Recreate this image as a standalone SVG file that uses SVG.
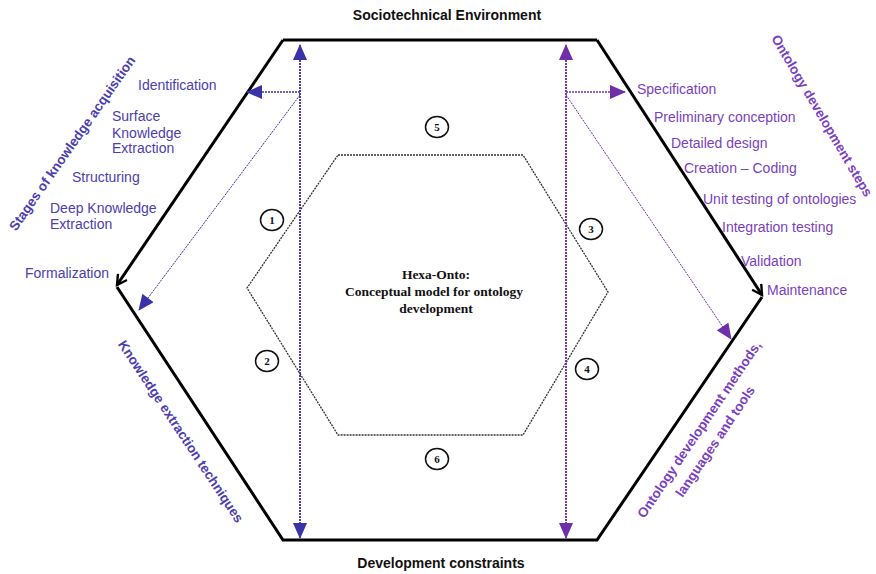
<svg xmlns="http://www.w3.org/2000/svg" width="876" height="574" viewBox="0 0 876 574">
<defs>
<marker id="chev" viewBox="0 0 12 12" refX="10" refY="6" markerWidth="13" markerHeight="13" markerUnits="userSpaceOnUse" orient="auto">
<path d="M1,1 L10,6 L1,11" fill="none" stroke="#000" stroke-width="2.2"/>
</marker>
<marker id="triB" viewBox="0 0 16 14" refX="15" refY="7" markerWidth="17" markerHeight="14" markerUnits="userSpaceOnUse" orient="auto">
<path d="M0,0 L16,7 L0,14 Z" fill="#3b31a8"/>
</marker>
<marker id="triP" viewBox="0 0 16 14" refX="15" refY="7" markerWidth="17" markerHeight="14" markerUnits="userSpaceOnUse" orient="auto">
<path d="M0,0 L16,7 L0,14 Z" fill="#6e2fa8"/>
</marker>
</defs>
<style>
.edge{fill:none;stroke:#000;stroke-width:3;stroke-linejoin:miter}
.dB{fill:none;stroke:#3b31a8;stroke-width:1.5;stroke-dasharray:2 1}
.dP{fill:none;stroke:#6e2fa8;stroke-width:1.5;stroke-dasharray:2 1}
.dBt{fill:none;stroke:#3b31a8;stroke-width:1;stroke-dasharray:2 1}
.dPt{fill:none;stroke:#6e2fa8;stroke-width:1;stroke-dasharray:2 1}
.inner{fill:none;stroke:#333;stroke-width:1.3;stroke-dasharray:2 1}
.lb{font-family:"Liberation Sans",Arial,sans-serif;font-size:14px;fill:#4a3eb0}
.lp{font-family:"Liberation Sans",Arial,sans-serif;font-size:14px;fill:#7a3fbf}
.tb{font-family:"Liberation Sans",Arial,sans-serif;font-size:13.5px;font-weight:bold;fill:#4a3eb0}
.tp{font-family:"Liberation Sans",Arial,sans-serif;font-size:13.5px;font-weight:bold;fill:#7a3fbf}
.title{font-family:"Liberation Sans",Arial,sans-serif;font-size:14px;font-weight:bold;fill:#111}
.num{fill:#fff;stroke:#111;stroke-width:1.5}
.nt{font-family:"Liberation Serif","Times New Roman",serif;font-size:11px;font-weight:bold;fill:#111;text-anchor:middle}
.ct{font-family:"Liberation Serif","Times New Roman",serif;font-size:13.5px;font-weight:bold;fill:#111;text-anchor:middle}
</style>

<g id="outer-hexagon">
<path class="edge" d="M117,287 L283,540 L597,540 L762,297"/>
<path class="edge" d="M283,40 L597,40"/>
<path class="edge" d="M283,40 L117,285" marker-end="url(#chev)"/>
<path class="edge" d="M597,40 L762,295" marker-end="url(#chev)"/>
</g>

<g id="inner-hexagon">
<path class="inner" d="M338,155 L523,155 L608,292 L523,435 L338,435 L247,288 Z"/>
</g>

<g id="connectors">
<path class="dB" d="M300,530 L300,45" marker-end="url(#triB)"/>
<path class="dB" d="M300,60 L300,538" marker-end="url(#triB)"/>
<path class="dB" d="M300,92 L247,92" marker-end="url(#triB)"/>
<path class="dBt" d="M300,95 L139,310" marker-end="url(#triB)"/>
<path class="dP" d="M566,530 L566,45" marker-end="url(#triP)"/>
<path class="dP" d="M566,60 L566,538" marker-end="url(#triP)"/>
<path class="dP" d="M566,92 L625,92" marker-end="url(#triP)"/>
<path class="dPt" d="M566,95 L731,339" marker-end="url(#triP)"/>
</g>

<g id="titles">
<text class="title" x="447" y="20" text-anchor="middle">Sociotechnical Environment</text>
<text class="title" x="441" y="568" text-anchor="middle">Development constraints</text>
</g>

<g id="center">
<text class="ct" x="436" y="279">Hexa-Onto:</text>
<text class="ct" x="434" y="296">Conceptual model for ontology</text>
<text class="ct" x="436" y="313">development</text>
</g>

<g id="numbers">
<ellipse class="num" cx="272" cy="220" rx="11.5" ry="10.5"/><text class="nt" x="272" y="224">1</text>
<ellipse class="num" cx="267" cy="361" rx="11.5" ry="10.5"/><text class="nt" x="267" y="365">2</text>
<ellipse class="num" cx="591" cy="229" rx="11.5" ry="10.5"/><text class="nt" x="591" y="233">3</text>
<ellipse class="num" cx="587" cy="369" rx="11.5" ry="10.5"/><text class="nt" x="587" y="373">4</text>
<ellipse class="num" cx="437" cy="127" rx="11.5" ry="10.5"/><text class="nt" x="437" y="131">5</text>
<ellipse class="num" cx="437" cy="459" rx="11.5" ry="10.5"/><text class="nt" x="437" y="463">6</text>
</g>

<g id="left-labels">
<text class="lb" x="138" y="90">Identification</text>
<text class="lb" x="112" y="121">Surface</text>
<text class="lb" x="112" y="138">Knowledge</text>
<text class="lb" x="112" y="153">Extraction</text>
<text class="lb" x="72" y="182">Structuring</text>
<text class="lb" x="50" y="213">Deep Knowledge</text>
<text class="lb" x="50" y="229">Extraction</text>
<text class="lb" x="25" y="278">Formalization</text>
<text class="tb" transform="translate(76,146) rotate(-55)" text-anchor="middle">Stages of knowledge acquisition</text>
<text class="tb" transform="translate(177,434) rotate(56.5)" text-anchor="middle">Knowledge extraction techniques</text>
</g>

<g id="right-labels">
<text class="lp" x="637" y="94">Specification</text>
<text class="lp" x="654" y="122">Preliminary conception</text>
<text class="lp" x="671" y="148">Detailed design</text>
<text class="lp" x="684" y="173">Creation – Coding</text>
<text class="lp" x="703" y="204">Unit testing of ontologies</text>
<text class="lp" x="722" y="232">Integration testing</text>
<text class="lp" x="741" y="266">Validation</text>
<text class="lp" x="767" y="295">Maintenance</text>
<text class="tp" transform="translate(818,118) rotate(59.5)" text-anchor="middle">Ontology development steps</text>
<text class="tp" transform="translate(703,432) rotate(-56)" text-anchor="middle">Ontology development methods,</text>
<text class="tp" transform="translate(719,444) rotate(-56)" text-anchor="middle">languages and tools</text>
</g>
</svg>
